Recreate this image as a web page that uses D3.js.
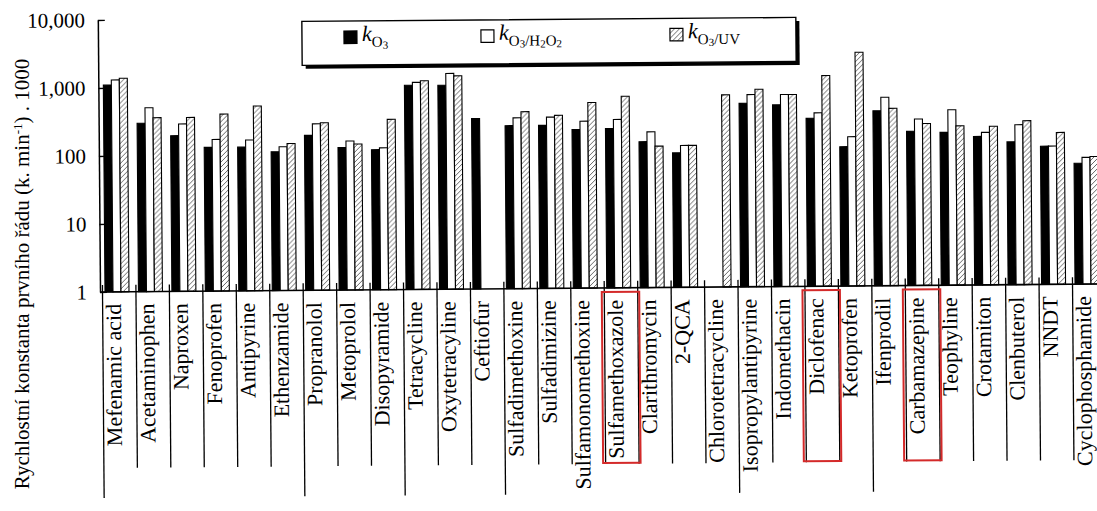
<!DOCTYPE html>
<html>
<head>
<meta charset="utf-8">
<script src="https://cdn.jsdelivr.net/npm/d3@7"></script>
<style>
  body { margin: 0; background: #fff; }
  svg { display: block; }
  text { font-family: "Liberation Serif", "Times New Roman", serif; fill: #000; }
</style>
</head>
<body>
<svg id="chart" width="1097" height="511"></svg>
<script>
// values (k . 1000, log scale)
const categories = [
  'Mefenamic acid', 'Acetaminophen', 'Naproxen', 'Fenoprofen', 'Antipyrine', 'Ethenzamide',
  'Propranolol', 'Metoprolol', 'Disopyramide',
  'Tetracycline', 'Oxytetracyline', 'Ceftiofur',
  'Sulfadimethoxine', 'Sulfadimizine', 'Sulfamonomethoxine', 'Sulfamethoxazole', 'Clarithromycin', '2-QCA', 'Chlorotetracycline',
  'Isopropylantipyrine', 'Indomethacin', 'Diclofenac', 'Ketoprofen',
  'Ifenprodil', 'Carbamazepine', 'Teophyline', 'Crotamiton', 'Clenbuterol', 'NNDT', 'Cyclophosphamide'
];
const kO3 = [1100, 300, 195, 130, 130, 110, 190, 125, 115, 1010, 1000, 320, 250, 250, 215, 220, 140, 95, null, 500, 470, 295, 112, 375, 185, 177, 153, 126, 108, 60];
const kO3H2O2 = [1310, 505, 290, 170, 165, 130, 280, 155, 122, 1110, 1490, null, 325, 330, 285, 300, 195, 122, null, 670, 665, 355, 157, 590, 280, 380, 175, 225, 108, 73];
const kO3UV = [1380, 360, 360, 400, 520, 145, 290, 140, 320, 1170, 1370, null, 400, 350, 535, 655, 120, 122, 670, 800, 665, 1250, 2730, 405, 240, 220, 215, 257, 171, 75];
const yTicks = [1, 10, 100, 1000, 10000];
// first compound of each group (long divider lines under the axis)
const groupStarts = ['Mefenamic acid', 'Propranolol', 'Tetracycline', 'Sulfadimethoxine', 'Isopropylantipyrine', 'Ifenprodil'];
const highlighted = ['Sulfamethoxazole', 'Diclofenac', 'Carbamazepine'];

const svg = d3.select('#chart');
const baseY = 292;
const step = 33.45;

const x = d3.scaleBand()
    .domain(categories)
    .range([101.5, 101.5 + categories.length * step]);

const series = [
  {key: 'o3', values: kO3, fill: '#000'},
  {key: 'h2o2', values: kO3H2O2, fill: '#fff'},
  {key: 'uv', values: kO3UV, fill: 'url(#hatch)'}
];

const xs = d3.scaleBand()
    .domain(series.map(s => s.key))
    .range([3.5, 27.5]);

const y = d3.scaleLog()
    .domain([1, 10000])
    .range([baseY, 20]);

const defs = svg.append('defs');
const pat = defs.append('pattern')
    .attr('id', 'hatch')
    .attr('patternUnits', 'userSpaceOnUse')
    .attr('width', 5)
    .attr('height', 5);
pat.append('rect').attr('width', 5).attr('height', 5).attr('fill', '#fff');
pat.append('path')
    .attr('d', 'M0,5 L5,0 M-1,1 L1,-1 M4,6 L6,4')
    .attr('stroke', '#666')
    .attr('stroke-width', 1);

// the scanned figure is tilted a little
const g = svg.append('g').attr('transform', `rotate(-0.46, 100, ${baseY})`);

// y axis
const yAxis = g.append('g')
    .attr('transform', 'translate(100,0)')
    .call(d3.axisLeft(y)
      .tickValues(yTicks)
      .tickFormat(d3.format(','))
      .tickSizeInner(-7)
      .tickSizeOuter(0)
      .tickPadding(13));
yAxis.select('.domain').attr('stroke', '#000').attr('stroke-width', 1.5);
yAxis.selectAll('.tick line').attr('stroke', '#000').attr('stroke-width', 1.3);
yAxis.selectAll('.tick text')
    .attr('font-size', 21)
    .attr('font-family', '"Liberation Serif", serif');

// bars
series.forEach(s => {
  g.append('g')
    .selectAll('rect')
    .data(categories.map((c, i) => ({c, v: s.values[i]})).filter(d => d.v != null))
    .join('rect')
      .attr('x', d => x(d.c) + xs(s.key))
      .attr('y', d => y(d.v))
      .attr('width', xs.bandwidth())
      .attr('height', d => baseY - y(d.v))
      .attr('fill', s.fill)
      .attr('stroke', '#000')
      .attr('stroke-width', 1.1);
});

// x axis line and dividers
g.append('line')
    .attr('x1', 100).attr('x2', 1120)
    .attr('y1', baseY).attr('y2', baseY)
    .attr('stroke', '#000').attr('stroke-width', 1.6);

const bounds = categories.map(c => ({c, x0: x(c)}));
g.append('g')
  .selectAll('line')
  .data(bounds)
  .join('line')
    .attr('x1', d => d.x0 + 1)
    .attr('x2', d => d.x0 + 1)
    .attr('y1', baseY - 7)
    .attr('y2', d => groupStarts.includes(d.c) ? 498 : 468)
    .attr('stroke', '#000')
    .attr('stroke-width', 1.3);

// category labels
g.append('g')
  .selectAll('text')
  .data(categories)
  .join('text')
    .attr('transform', d => `translate(${x(d) + x.bandwidth() / 2 - 3},304) rotate(-90)`)
    .attr('text-anchor', 'end')
    .attr('dy', '0.25em')
    .attr('font-size', 22)
    .text(d => d);

// red boxes
g.append('g')
  .selectAll('rect')
  .data(highlighted)
  .join('rect')
    .attr('x', d => x(d) - 1.5)
    .attr('y', 296)
    .attr('width', x.bandwidth() + 4)
    .attr('height', 171)
    .attr('fill', 'none')
    .attr('stroke', '#d42a2a')
    .attr('stroke-width', 2);

// legend
const lg = g.append('g').attr('transform', 'translate(304,23)');
lg.append('rect')
    .attr('x', 3.5).attr('y', 3.5)
    .attr('width', 494).attr('height', 44)
    .attr('fill', '#000');
lg.append('rect')
    .attr('width', 494).attr('height', 44)
    .attr('fill', '#fff')
    .attr('stroke', '#000')
    .attr('stroke-width', 1.4);

const legendItems = [
  {fill: '#000', dx: 42, parts: [['O', 1], ['3', 2]]},
  {fill: '#fff', dx: 179, parts: [['O', 1], ['3', 2], ['/H', 1], ['2', 2], ['O', 1], ['2', 2]]},
  {fill: 'url(#hatch)', dx: 368, parts: [['O', 1], ['3', 2], ['/UV', 1]]}
];
legendItems.forEach(it => {
  const e = lg.append('g').attr('transform', `translate(${it.dx},10)`);
  e.append('rect')
      .attr('width', 13).attr('height', 12.5)
      .attr('fill', it.fill)
      .attr('stroke', '#000')
      .attr('stroke-width', 1.2);
  const t = e.append('text').attr('x', 18).attr('y', 10).attr('font-size', 22);
  t.append('tspan').attr('font-style', 'italic').text('k');
  let level = 0;
  it.parts.forEach(([s, lv]) => {
    const shift = (lv === 2 ? 8 : 6) - (level === 2 ? 8 : level === 1 ? 6 : 0);
    t.append('tspan')
        .attr('dy', shift)
        .attr('font-size', lv === 2 ? 11 : 15)
        .text(s);
    level = lv;
  });
});

// y axis title
const yt = svg.append('text')
    .attr('transform', 'translate(29,274) rotate(-90)')
    .attr('text-anchor', 'middle')
    .attr('font-size', 21);
yt.append('tspan').text('Rychlostní konstanta prvního řádu (k. min');
yt.append('tspan').attr('dy', -7).attr('font-size', 13).text('-1');
yt.append('tspan').attr('dy', 7).text(') . 1000');
</script>
</body>
</html>
